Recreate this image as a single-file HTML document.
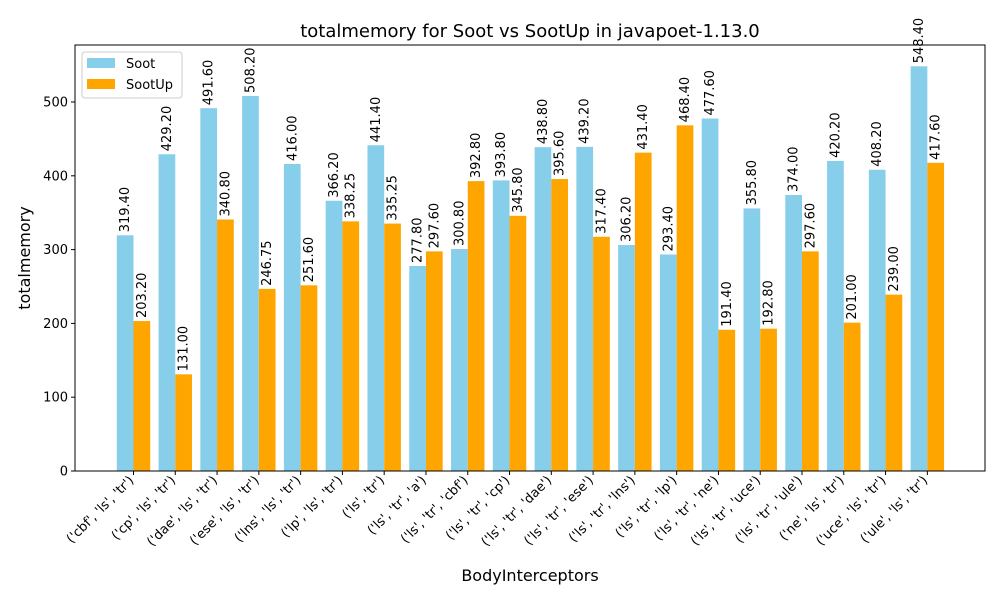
<!DOCTYPE html>
<html><head><meta charset="utf-8"><style>
body{margin:0;background:#fff;}
svg text{font-family:"DejaVu Sans","Liberation Sans",sans-serif;fill:#000;}
</style></head><body>
<svg id="chart" width="1000" height="600" xmlns="http://www.w3.org/2000/svg"></svg>
<script>
const categories=["('cbf', 'ls', 'tr')","('cp', 'ls', 'tr')","('dae', 'ls', 'tr')","('ese', 'ls', 'tr')","('lns', 'ls', 'tr')","('lp', 'ls', 'tr')","('ls', 'tr')","('ls', 'tr', 'a')","('ls', 'tr', 'cbf')","('ls', 'tr', 'cp')","('ls', 'tr', 'dae')","('ls', 'tr', 'ese')","('ls', 'tr', 'lns')","('ls', 'tr', 'lp')","('ls', 'tr', 'ne')","('ls', 'tr', 'uce')","('ls', 'tr', 'ule')","('ne', 'ls', 'tr')","('uce', 'ls', 'tr')","('ule', 'ls', 'tr')"];
const sootValues=[319.40,429.20,491.60,508.20,416.00,366.20,441.40,277.80,300.80,393.80,438.80,439.20,306.20,293.40,477.60,355.80,374.00,420.20,408.20,548.40];
const sootUpValues=[203.20,131.00,340.80,246.75,251.60,338.25,335.25,297.60,392.80,345.80,395.60,317.40,431.40,468.40,191.40,192.80,297.60,201.00,239.00,417.60];
const yTicks=[0,100,200,300,400,500];
const svg=document.getElementById('chart');
const NS='http://www.w3.org/2000/svg';
const L=75,R=985,T=45,B=471;
const yMax=(B-T)/0.738;
const xMin=-1.4,xMax=categories.length-1+1.38;
const xs=v=>L+(v-xMin)/(xMax-xMin)*(R-L);
const ys=v=>B-v/yMax*(B-T);
const bw=0.4;
function mk(tag,attrs,parent){const e=document.createElementNS(NS,tag);for(const k in attrs)e.setAttribute(k,attrs[k]);(parent||svg).appendChild(e);return e;}
const bw_px=xs(bw)-xs(0);
categories.forEach((c,i)=>{
  [[sootValues[i],'#87ceeb',-bw],[sootUpValues[i],'#ffa500',0]].forEach(([v,col,off],k)=>{
    const x=xs(i+off);
    const r=mk('rect',{x:x,y:ys(v),width:bw_px,height:B-ys(v),fill:col});
    
    
    const cx=x+bw_px/2+4,cy=ys(v)-3;
    const t=mk('text',{x:cx,y:cy,'font-size':13,transform:`rotate(-90 ${cx} ${cy})`});
    t.textContent=v.toFixed(2);
    
    
  });
  const tx=xs(i);
  mk('line',{x1:tx,x2:tx,y1:B,y2:B+4,stroke:'#000'});
  const lx=tx+1,ly=B+10;
  const t=mk('text',{x:lx,y:ly,'font-size':13,'text-anchor':'end',transform:`rotate(-45 ${lx} ${ly})`});
  t.textContent=c;
  
  
});
yTicks.forEach(v=>{
  const y=ys(v);
  mk('line',{x1:L-4,x2:L,y1:y,y2:y,stroke:'#000'});
  const t=mk('text',{x:L-7,y:y+4.5,'font-size':13,'text-anchor':'end'});
  t.textContent=v;
  
  
});
const ax=mk('rect',{x:L,y:T,width:R-L,height:B-T,fill:'none',stroke:'#000','stroke-width':1});


let t=mk('text',{x:530,y:37,'font-size':18,'text-anchor':'middle'});t.textContent='totalmemory for Soot vs SootUp in javapoet-1.13.0';

t=mk('text',{x:530,y:581,'font-size':16,'text-anchor':'middle'});t.textContent='BodyInterceptors';

t=mk('text',{x:30,y:258,'font-size':16,'text-anchor':'middle',transform:'rotate(-90 30 258)'});t.textContent='totalmemory';

const lg=mk('g',{});

mk('rect',{x:82,y:52,width:100,height:46,fill:'#fff',stroke:'#ccc',rx:3},lg);
[['Soot','#87ceeb',58],['SootUp','#ffa500',79]].forEach(([n,c,y])=>{
  mk('rect',{x:87,y:y,width:28,height:10,fill:c},lg);
  const e=mk('text',{x:126,y:y+10,'font-size':13},lg);e.textContent=n;
  
});
</script>
</body></html>
